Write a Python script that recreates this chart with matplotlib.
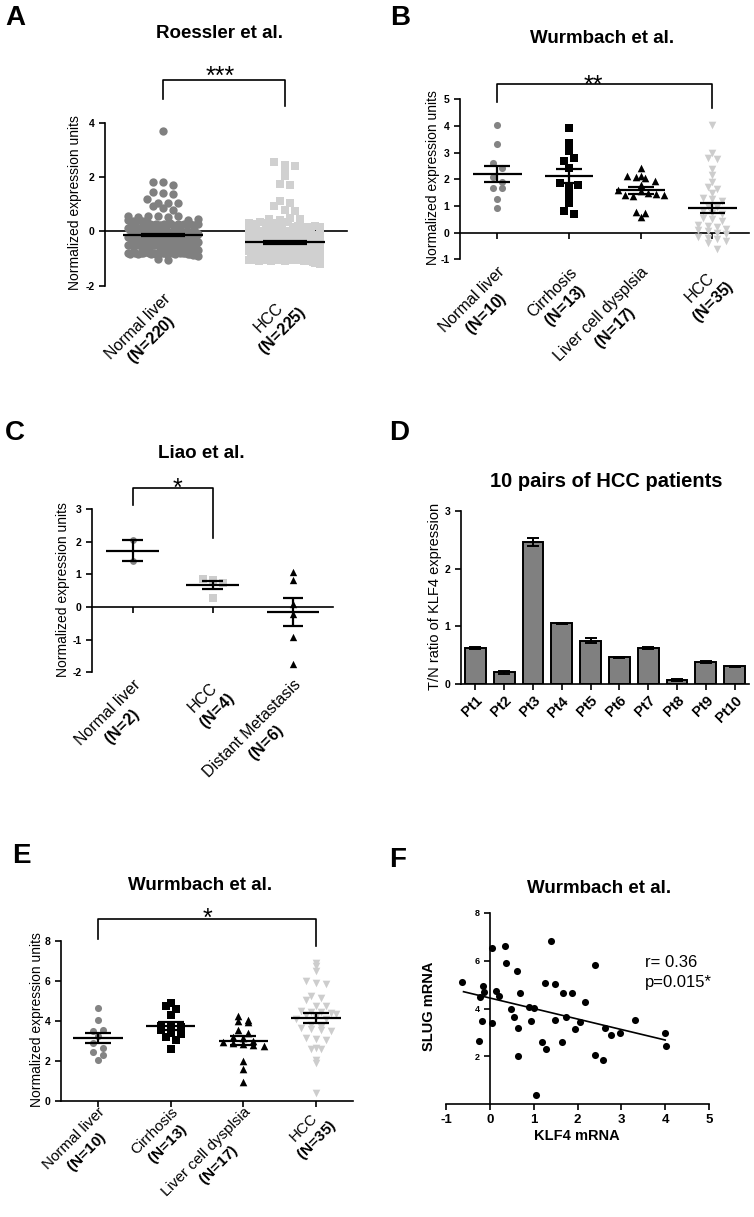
import numpy as np
import matplotlib
matplotlib.use("Agg")
import matplotlib.pyplot as plt

plt.rcParams["font.family"] = ["Liberation Sans", "DejaVu Sans"]
plt.rcParams["mathtext.fontset"] = "custom"
plt.rcParams["mathtext.rm"] = "Liberation Sans"
plt.rcParams["mathtext.bf"] = "Liberation Sans:bold"
plt.rcParams["mathtext.it"] = "Liberation Sans:italic"

W, H = 754, 1217

# ---------------- data ----------------
# A: Roessler et al.
roessler_groups = ["Normal liver", "HCC"]
roessler_n = [220, 225]
roessler_normal = [
    3.68, 1.82, 1.80, 1.70, 1.45, 1.40, 1.36, 1.20, 1.06, 1.04, 1.05, 0.95, 0.85, 0.80, -1.00, -1.06,
    0.56, 0.53, 0.58, 0.55, 0.52, 0.57,
    0.41, 0.38, 0.43, 0.40, 0.37, 0.42, 0.39, 0.44, 0.40, 0.36,
    0.26, 0.23, 0.28, 0.25, 0.22, 0.27, 0.24, 0.29, 0.25, 0.21, 0.26, 0.23, 0.28, 0.24, 0.27, 0.22, 0.25, 0.26,
    0.11, 0.08, 0.13, 0.10, 0.07, 0.12, 0.09, 0.14, 0.10, 0.06, 0.11, 0.08, 0.13, 0.09, 0.12, 0.07, 0.10, 0.11,
    0.08, 0.13, 0.09, 0.12,
    -0.04, -0.07, -0.02, -0.05, -0.08, -0.03, -0.06, -0.01, -0.05, -0.09, -0.04, -0.07, -0.02, -0.06, -0.03,
    -0.08, -0.05, -0.04, -0.07, -0.02, -0.06, -0.03, -0.05, -0.08,
    -0.19, -0.22, -0.17, -0.20, -0.23, -0.18, -0.21, -0.16, -0.20, -0.24, -0.19, -0.22, -0.17, -0.21, -0.18,
    -0.23, -0.20, -0.19, -0.22, -0.17, -0.21, -0.18, -0.20, -0.23,
    -0.34, -0.37, -0.32, -0.35, -0.38, -0.33, -0.36, -0.31, -0.35, -0.39, -0.34, -0.37, -0.32, -0.36, -0.33,
    -0.38, -0.35, -0.34, -0.37, -0.32, -0.36, -0.33, -0.35, -0.38,
    -0.49, -0.52, -0.47, -0.50, -0.53, -0.48, -0.51, -0.46, -0.50, -0.54, -0.49, -0.52, -0.47, -0.51, -0.48,
    -0.53, -0.50, -0.49, -0.52, -0.47, -0.51, -0.48, -0.50, -0.53,
    -0.64, -0.67, -0.62, -0.65, -0.68, -0.63, -0.66, -0.61, -0.65, -0.69, -0.64, -0.67, -0.62, -0.66, -0.63,
    -0.68, -0.65, -0.64, -0.67, -0.62, -0.66, -0.63, -0.65, -0.68,
    -0.79, -0.82, -0.77, -0.80, -0.83, -0.78, -0.81, -0.76, -0.80, -0.84, -0.79, -0.82, -0.77, -0.81, -0.78,
    -0.83, -0.80, -0.79, -0.82, -0.77, -0.81, -0.78, -0.80, -0.83, -0.85, -0.86, -0.88, -0.90,
]
roessler_hcc = [
    2.55, 2.45, 2.40, 2.30, 2.05, 1.75, 1.70, 1.10, 1.05, 0.95, 0.80, 0.75,
    0.46, 0.43, 0.48, 0.44,
    0.31, 0.28, 0.33, 0.30, 0.27, 0.32, 0.29, 0.34,
    0.16, 0.13, 0.18, 0.15, 0.12, 0.17, 0.14, 0.19, 0.15,
    0.01, -0.02, 0.03, 0.00, -0.03, 0.02, -0.01, 0.04, 0.00, -0.04, 0.01, -0.02, 0.03, -0.01,
    -0.14, -0.17, -0.12, -0.15, -0.18, -0.13, -0.16, -0.11, -0.15, -0.19, -0.14, -0.17, -0.12, -0.16, -0.13, -0.18,
    -0.29, -0.32, -0.27, -0.30, -0.33, -0.28, -0.31, -0.26, -0.30, -0.34, -0.29, -0.32, -0.27, -0.31, -0.28,
    -0.33, -0.30, -0.29, -0.32, -0.27, -0.31, -0.28,
    -0.44, -0.47, -0.42, -0.45, -0.48, -0.43, -0.46, -0.41, -0.45, -0.49, -0.44, -0.47, -0.42, -0.46, -0.43,
    -0.48, -0.45, -0.44, -0.47, -0.42, -0.46, -0.43, -0.45, -0.48,
    -0.59, -0.62, -0.57, -0.60, -0.63, -0.58, -0.61, -0.56, -0.60, -0.64, -0.59, -0.62, -0.57, -0.61, -0.58,
    -0.63, -0.60, -0.59, -0.62, -0.57, -0.61, -0.58, -0.60, -0.63, -0.59, -0.61,
    -0.74, -0.77, -0.72, -0.75, -0.78, -0.73, -0.76, -0.71, -0.75, -0.79, -0.74, -0.77, -0.72, -0.76, -0.73,
    -0.78, -0.75, -0.74, -0.77, -0.72, -0.76, -0.73, -0.75, -0.78, -0.74, -0.76, -0.75, -0.77,
    -0.89, -0.92, -0.87, -0.90, -0.93, -0.88, -0.91, -0.86, -0.90, -0.94, -0.89, -0.92, -0.87, -0.91, -0.88,
    -0.93, -0.90, -0.89, -0.92, -0.87, -0.91, -0.88, -0.90, -0.93, -0.89, -0.91, -0.90, -0.92, -0.88, -0.94, -0.90,
    -1.04, -1.07, -1.02, -1.05, -1.08, -1.03, -1.06, -1.01, -1.05, -1.09, -1.04, -1.07, -1.02, -1.06, -1.03,
    -1.08, -1.05, -1.04, -1.07, -1.02, -1.06, -1.03, -1.05, -1.08, -1.04, -1.06, -1.10, -1.12, -1.15, -1.18, -1.20,
]

# B: Wurmbach et al. (KLF4)
wurm_groups = ["Normal liver", "Cirrhosis", "Liver cell dysplsia", "HCC"]
wurm_n = [10, 13, 17, 35]
klf4_normal = [4.02, 3.32, 2.62, 2.42, 2.10, 1.90, 1.68, 1.66, 1.28, 0.92]
klf4_cirrhosis = [3.91, 3.37, 3.06, 2.69, 2.81, 2.41, 1.85, 1.72, 1.78, 1.41, 1.10, 0.81, 0.69]
klf4_dysplasia = [2.43, 2.14, 2.12, 2.10, 2.05, 1.93, 1.60, 1.78, 1.42, 1.38, 1.55, 1.50, 1.44, 1.40,
                  0.78, 0.74, 0.60]
klf4_hcc = [4.05, 3.00, 2.80, 2.75, 2.40, 2.15, 1.90, 1.70, 1.65, 1.50, 1.30, 1.25, 1.20, 1.00, 0.95,
            0.80, 0.75, 0.70, 0.55, 0.50, 0.45, 0.30, 0.25, 0.20, 0.15, 0.10, 0.05, 0.00, -0.05, -0.15,
            -0.20, -0.25, -0.30, -0.40, -0.60]

# C: Liao et al.
liao_groups = ["Normal liver", "HCC", "Distant Metastasis"]
liao_n = [2, 4, 6]
liao_normal = [2.05, 1.40]
liao_hcc = [0.87, 0.82, 0.72, 0.28]
liao_meta = [1.07, 0.82, 0.10, -0.20, -0.92, -1.76]

# D: 10 pairs of HCC patients
patients = ["Pt1", "Pt2", "Pt3", "Pt4", "Pt5", "Pt6", "Pt7", "Pt8", "Pt9", "Pt10"]
tn_ratio = [0.63, 0.20, 2.47, 1.05, 0.75, 0.46, 0.63, 0.07, 0.38, 0.31]
tn_err = [0.015, 0.02, 0.07, 0.01, 0.04, 0.015, 0.02, 0.01, 0.015, 0.01]

# E: Wurmbach et al. (SLUG)
slug_normal = [4.63, 4.05, 3.50, 3.52, 3.25, 2.90, 2.63, 2.47, 2.30, 2.05]
slug_cirrhosis = [4.88, 4.72, 4.58, 4.30, 3.75, 3.72, 3.70, 3.55, 3.40, 3.35, 3.20, 3.05, 2.60]
slug_dysplasia = [4.25, 4.05, 3.98, 3.96, 3.55, 3.38, 3.20, 3.13, 3.00, 2.96, 2.90, 2.85, 2.80, 2.72,
                  1.98, 1.58, 0.95]
slug_hcc = [6.88, 6.72, 6.47, 4.10, 5.97, 5.88, 5.82, 5.22, 5.13, 5.05, 4.30, 4.20, 4.50, 4.75, 4.75,
            4.10, 4.45, 4.42, 4.40, 4.35, 3.80, 3.70, 3.62, 3.60, 3.55, 3.50, 3.15, 3.10, 3.05, 2.65,
            2.62, 2.60, 2.05, 1.90, 0.38]

# F: correlation
klf4_mrna = [-0.63, 0.05, 0.34, 1.39, 0.38, 0.62, -0.15, -0.14, -0.23, 0.15, 0.21, 0.68, 1.25, 1.48,
             1.66, 1.88, 2.17, 2.41, 0.49, 0.89, 1.00, 0.54, -0.17, 0.06, 0.64, 0.94, 1.48, 1.73, 2.05,
             1.94, 2.62, 2.76, 2.97, 3.32, 4.00, 4.02, -0.25, 1.19, 1.28, 1.65, 0.65, 2.40, 2.59, 1.05]
slug_mrna = [5.11, 6.52, 6.61, 6.84, 5.91, 5.56, 4.94, 4.68, 4.50, 4.75, 4.52, 4.64, 5.08, 5.01, 4.64,
             4.67, 4.26, 5.81, 3.98, 4.07, 4.02, 3.66, 3.47, 3.39, 3.19, 3.47, 3.52, 3.64, 3.43, 3.13,
             3.20, 2.88, 2.96, 3.50, 2.97, 2.45, 2.65, 2.59, 2.29, 2.60, 2.01, 2.04, 1.84, 0.36]
fit_slope, fit_intercept = -0.44, 4.44
fit_span = [-0.6, 4.0]

# ---------------- helpers ----------------
fig = plt.figure(figsize=(W / 100, H / 100), dpi=100)


def px_axes(left, top, right, bottom):
    return fig.add_axes([left / W, 1 - bottom / H, (right - left) / W, (bottom - top) / H])


def ftext(x, y, s, **kw):
    return fig.text(x / W, 1 - y / H, s, **kw)


def swarm_x(values, centre, dx, h, half_width):
    values = np.asarray(values, float)
    xs = np.full(len(values), float(centre))
    rows = np.round(values / h).astype(int)
    for r in np.unique(rows):
        idx = np.where(rows == r)[0]
        n = len(idx)
        step = dx
        if n > 1 and (n - 1) * dx > 2 * half_width:
            step = 2 * half_width / (n - 1)
        xs[idx] = centre + (np.arange(n) - (n - 1) / 2) * step
    return xs


def mean_sem(ax, values, centre, mean_hw, cap_hw, lw=1.6):
    v = np.asarray(values, float)
    m = v.mean()
    s = v.std(ddof=1) / np.sqrt(len(v))
    ax.hlines(m, centre - mean_hw, centre + mean_hw, color="black", lw=lw, zorder=5)
    ax.hlines([m - s, m + s], centre - cap_hw, centre + cap_hw, color="black", lw=lw, zorder=5)
    ax.vlines(centre, m - s, m + s, color="black", lw=lw, zorder=5)


def style(ax, yticks, zero_spine=True, ytick_size=7.5):
    for s in ["top", "right"]:
        ax.spines[s].set_visible(False)
    for s in ["left", "bottom"]:
        ax.spines[s].set_linewidth(1.2)
    if zero_spine:
        ax.spines["bottom"].set_position(("data", 0))
    ax.tick_params(direction="out", length=4, width=1.2)
    ax.set_yticks(yticks, labels=[str(t) for t in yticks], fontweight="bold", fontsize=ytick_size)
    ax.set_ylim(yticks[0], yticks[-1])


def group_labels(ax, names, ns, fontsize=11.5, pad_px=5):
    ax.set_xticks(range(len(names)), labels=[""] * len(names))
    axh = ax.get_position().height * H
    for i, (name, n) in enumerate(zip(names, ns)):
        ax.text(i, -pad_px / axh, name + "\n" + r"$\mathbf{(N\!=\!%d)}$" % n,
                transform=ax.get_xaxis_transform(), rotation=45, rotation_mode="anchor",
                ha="right", va="top", multialignment="center", fontsize=fontsize)


def bracket(ax, x0, x1, ytop, yleft, yright):
    ax.plot([x0, x0, x1, x1], [yleft, ytop, ytop, yright], color="black", lw=1.2, clip_on=False)


def dot_groups(ax, groups, styles, dx, h, half_width, mean_hw, cap_hw):
    for i, (vals, (marker, color, size)) in enumerate(zip(groups, styles)):
        xs = swarm_x(vals, i, dx, h, half_width)
        ax.scatter(xs, vals, marker=marker, color=color, s=size, linewidths=0, zorder=3)
        mean_sem(ax, vals, i, mean_hw, cap_hw)


DARK = "#848484"
LIGHT = "#cdcdcd"

# ---------------- A ----------------
axA = px_axes(105, 122.7, 347, 285.7)
style(axA, [-2, 0, 2, 4])
axA.set_xlim(-0.475, 1.51)
dot_groups(axA, [roessler_normal, roessler_hcc],
           [("o", "#808080", 36), ("s", "#d0d0d0", 36)],
           dx=0.085, h=0.28, half_width=0.29, mean_hw=0.33, cap_hw=0.18)
group_labels(axA, roessler_groups, roessler_n)
bracket(axA, 0, 1, 5.58, 4.88, 4.62)
ftext(220, 84, "***", ha="center", va="baseline", fontsize=18)

# ---------------- B ----------------
axB = px_axes(460, 99.3, 749, 259.3)
style(axB, [-1, 0, 1, 2, 3, 4, 5])
axB.set_xlim(-0.52, 3.51)
dot_groups(axB, [klf4_normal, klf4_cirrhosis, klf4_dysplasia, klf4_hcc],
           [("o", DARK, 26), ("s", "black", 26), ("^", "black", 30), ("v", LIGHT, 30)],
           dx=0.13, h=0.25, half_width=0.32, mean_hw=0.34, cap_hw=0.18)
group_labels(axB, wurm_groups, wurm_n)
bracket(axB, 0, 3, 5.57, 4.9, 4.67)
ftext(593, 93, "**", ha="center", va="baseline", fontsize=18)

# ---------------- C ----------------
axC = px_axes(92, 509, 333, 672.3)
style(axC, [-2, -1, 0, 1, 2, 3])
axC.set_xlim(-0.51, 2.5)
dot_groups(axC, [liao_normal, liao_hcc, liao_meta],
           [("o", DARK, 24), ("s", LIGHT, 30), ("^", "black", 28)],
           dx=0.125, h=0.2, half_width=0.3, mean_hw=0.33, cap_hw=0.13)
group_labels(axC, liao_groups, liao_n)
bracket(axC, 0, 1, 3.65, 3.11, 2.12)
ftext(177, 496, "*", ha="center", va="baseline", fontsize=18)

# ---------------- D ----------------
axD = px_axes(461, 511, 749, 684)
style(axD, [0, 1, 2, 3], zero_spine=False)
axD.set_xlim(-0.5, 9.5)
axD.bar(range(len(patients)), tn_ratio, width=0.72, color="#808080", edgecolor="black", lw=1.4,
        yerr=tn_err, capsize=4, error_kw=dict(elinewidth=1.4, capthick=1.4, ecolor="black"))
axD.set_xticks(range(len(patients)), labels=patients, rotation=45, rotation_mode="anchor",
               ha="right", va="top", fontweight="bold", fontsize=10.5)
axD.tick_params(axis="x", pad=3)

# ---------------- E ----------------
axE = px_axes(61, 940.7, 353, 1101)
style(axE, [0, 2, 4, 6, 8], zero_spine=False)
axE.set_xlim(-0.51, 3.51)
dot_groups(axE, [slug_normal, slug_cirrhosis, slug_dysplasia, slug_hcc],
           [("o", DARK, 26), ("s", "black", 26), ("^", "black", 30), ("v", LIGHT, 30)],
           dx=0.14, h=0.35, half_width=0.36, mean_hw=0.34, cap_hw=0.18)
group_labels(axE, wurm_groups, wurm_n, fontsize=11, pad_px=4)
bracket(axE, 0, 3, 9.1, 8.1, 7.75)
ftext(207, 926, "*", ha="center", va="baseline", fontsize=18)

# ---------------- F ----------------
axF = px_axes(446, 913, 709, 1104)
for s in ["top", "right"]:
    axF.spines[s].set_visible(False)
for s in ["left", "bottom"]:
    axF.spines[s].set_linewidth(1.2)
axF.spines["left"].set_position(("data", 0))
axF.set_xlim(-1, 5)
axF.set_ylim(0, 8)
axF.tick_params(direction="out", length=4, width=1.2)
axF.set_yticks([2, 4, 6, 8], labels=["2", "4", "6", "8"], fontweight="bold", fontsize=6.5)
xt = [-1, 0, 1, 2, 3, 4, 5]
axF.set_xticks(xt, labels=[str(t) for t in xt], fontweight="bold", fontsize=9.5)
axF.scatter(klf4_mrna, slug_mrna, s=26, color="black", linewidths=0, zorder=3)
fx = np.array(fit_span)
axF.plot(fx, fit_intercept + fit_slope * fx, color="black", lw=1.2, zorder=2)

# ---------------- texts ----------------
for letter, x, y in [("A", 5, 25), ("B", 390, 25), ("C", 5, 440),
                     ("D", 389, 440), ("E", 12, 863), ("F", 389, 867)]:
    ftext(x, y, letter, ha="left", va="baseline", fontsize=20, fontweight="bold")

for title, x, y, fs in [("Roessler et al.", 220, 37.7, 13.5), ("Wurmbach et al.", 602, 43.3, 13.5),
                        ("Liao et al.", 201, 458.3, 13.5), ("10 pairs of HCC patients", 606, 487.3, 14.5),
                        ("Wurmbach et al.", 200, 890, 13.5), ("Wurmbach et al.", 599, 892.7, 13.5)]:
    ftext(x, y, title, ha="center", va="baseline", fontsize=fs, fontweight="bold")

for x, y in [(75, 203), (433, 178), (63, 590), (37, 1020)]:
    ftext(x, y, "Normalized expression units", rotation=90, ha="center", va="center", fontsize=10)
ftext(434.5, 596, "T/N ratio of KLF4 expression", rotation=90, ha="center", va="center", fontsize=10.5)
ftext(429, 1006.5, "SLUG mRNA", rotation=90, ha="center", va="center", fontsize=10.5, fontweight="bold")
ftext(577, 1140, "KLF4 mRNA", ha="center", va="baseline", fontsize=10.5, fontweight="bold")
ftext(645, 966.7, "r= 0.36", ha="left", va="baseline", fontsize=12)
ftext(645, 986.7, "p=0.015*", ha="left", va="baseline", fontsize=12)

fig.savefig("out.png", dpi=100)
